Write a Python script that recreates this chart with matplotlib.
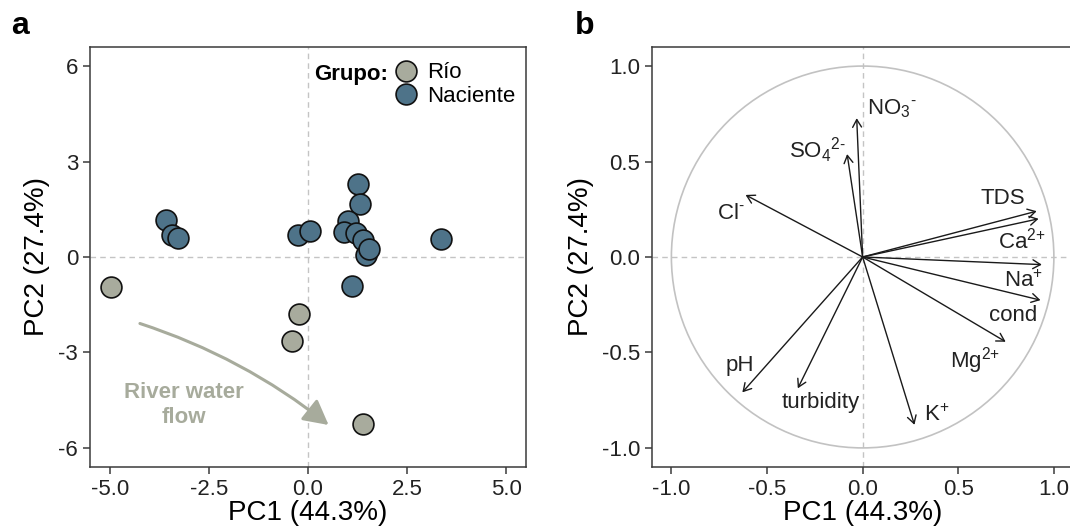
"""
PCA of water chemistry: sample scores (a) and variable loadings (b).
"""

import matplotlib.pyplot as plt
from matplotlib.lines import Line2D
from matplotlib.patches import Circle, FancyArrowPatch

plt.rcParams["font.family"] = ["Liberation Sans", "DejaVu Sans"]
plt.rcParams["mathtext.default"] = "regular"

# Scores (panel a)
rio_pc1 = [-4.96, -0.22, -0.40, 1.40]
rio_pc2 = [-0.94, -1.79, -2.65, -5.26]

naciente_pc1 = [-3.57, -3.43, -3.28, -0.26, 0.05, 1.27, 1.30, 1.01, 0.90,
                1.22, 1.38, 1.46, 1.54, 1.12, 3.36]
naciente_pc2 = [1.15, 0.70, 0.59, 0.68, 0.82, 2.29, 1.65, 1.13, 0.80,
                0.75, 0.52, 0.07, 0.26, -0.91, 0.56]

# Loadings (panel b)
HY = "\u2010"  # short hyphen for ion charges
variables = ["NO$_3$$^{" + HY + "}$", "SO$_4$$^{2" + HY + "}$",
             "Cl$^{" + HY + "}$", "TDS", "Ca$^{2{+}}$", "Na$^{+}$", "cond",
             "Mg$^{2{+}}$", "K$^{+}$", "turbidity", "pH"]
load_pc1 = [-0.031, -0.081, -0.612, 0.910, 0.920, 0.937, 0.930, 0.748,
            0.271, -0.339, -0.629]
load_pc2 = [0.727, 0.539, 0.325, 0.240, 0.200, -0.040, -0.226, -0.444,
            -0.879, -0.688, -0.709]
label_x = [0.023, -0.238, -0.690, 0.732, 0.831, 0.840, 0.788, 0.588,
           0.388, -0.221, -0.642]
label_y = [0.775, 0.560, 0.230, 0.304, 0.087, -0.125, -0.305, -0.540,
           -0.827, -0.762, -0.569]
label_ha = ["left", "center", "center", "center", "center", "center",
            "center", "center", "center", "center", "center"]

RIO_COLOR = "#a8ab9d"
NAC_COLOR = "#4e7389"
SPINE = "#3a3a3a"
GUIDE = "#c4c4c4"
FS = 16


def style_axes(ax):
    for sp in ax.spines.values():
        sp.set_color(SPINE)
        sp.set_linewidth(1.1)
    ax.tick_params(direction="out", length=5, width=1.1, color=SPINE,
                   labelsize=FS, pad=3.5, labelcolor="#222222")
    ax.axhline(0, color=GUIDE, lw=1.0, ls=(0, (4, 3)), zorder=1)
    ax.axvline(0, color=GUIDE, lw=1.0, ls=(0, (4, 3)), zorder=1)


fig = plt.figure(figsize=(10.7, 5.29), dpi=100)

# Panel a
ax1 = fig.add_axes([0.0841, 0.1172, 0.4075, 0.794])
style_axes(ax1)
ax1.scatter(rio_pc1, rio_pc2, s=225, c=RIO_COLOR, edgecolors="#111111",
            linewidths=1.2, zorder=3)
ax1.scatter(naciente_pc1, naciente_pc2, s=225, c=NAC_COLOR,
            edgecolors="#111111", linewidths=1.2, zorder=3)
ax1.set_xlim(-5.5, 5.5)
ax1.set_ylim(-6.6, 6.6)
ax1.set_xticks([-5.0, -2.5, 0.0, 2.5, 5.0])
ax1.set_xticklabels(["-5.0", "-2.5", "0.0", "2.5", "5.0"])
ax1.set_yticks([-6, -3, 0, 3, 6])
ax1.set_yticklabels(["-6", "-3", "0", "3", "6"])
ax1.set_xlabel("PC1 (44.3%)", fontsize=20, labelpad=0)
ax1.set_ylabel("PC2 (27.4%)", fontsize=20, labelpad=6)

flow = FancyArrowPatch((-4.24, -2.09), (0.52, -5.28),
                       connectionstyle="arc3,rad=-0.09",
                       arrowstyle="-|>,head_length=0.75,head_width=0.4",
                       mutation_scale=20, color="#a7ab9c", lw=2.2,
                       shrinkA=0, shrinkB=0, zorder=2)
ax1.add_patch(flow)
ax1.text(-3.13, -4.65, "River water\nflow", color="#a7ab9c",
         fontsize=FS, fontweight="bold", ha="center", va="center",
         linespacing=1.3)

handles = [
    Line2D([], [], ls="none", marker="o", ms=15, mfc=RIO_COLOR,
           mec="#111111", mew=1.2, label="Río"),
    Line2D([], [], ls="none", marker="o", ms=15, mfc=NAC_COLOR,
           mec="#111111", mew=1.2, label="Naciente"),
]
ax1.legend(handles=handles, loc="upper right", frameon=False,
           fontsize=FS, handlelength=1.0, handletextpad=0.45,
           labelspacing=0.1, borderaxespad=0.1,
           bbox_to_anchor=(1.0, 0.99))
ax1.text(0.683, 0.935, "Grupo:", transform=ax1.transAxes, fontsize=FS,
         fontweight="bold", ha="right", va="center")

# Panel b
ax2 = fig.add_axes([0.6096, 0.1172, 0.3932, 0.794])
style_axes(ax2)
ax2.add_patch(Circle((0, 0), 1.0, fill=False, ec="#c2c2c2", lw=1.2,
                     zorder=1))
for x, y in zip(load_pc1, load_pc2):
    ax2.add_patch(FancyArrowPatch((0, 0), (x, y),
                                  arrowstyle="->,head_length=0.55,head_width=0.32",
                                  mutation_scale=10, color="#1a1a1a",
                                  lw=1.0, shrinkA=0, shrinkB=0, zorder=3))
for name, x, y, ha in zip(variables, label_x, label_y, label_ha):
    ax2.text(x, y, name, fontsize=FS, ha=ha, va="center", color="#222222")
ax2.set_xlim(-1.1, 1.1)
ax2.set_ylim(-1.1, 1.1)
ax2.set_xticks([-1.0, -0.5, 0.0, 0.5, 1.0])
ax2.set_xticklabels(["-1.0", "-0.5", "0.0", "0.5", "1.0"])
ax2.set_yticks([-1.0, -0.5, 0.0, 0.5, 1.0])
ax2.set_yticklabels(["-1.0", "-0.5", "0.0", "0.5", "1.0"])
ax2.set_xlabel("PC1 (44.3%)", fontsize=20, labelpad=0)
ax2.set_ylabel("PC2 (27.4%)", fontsize=20, labelpad=6)

fig.text(0.010, 0.936, "a", fontsize=23, fontweight="bold", va="baseline")
fig.text(0.537, 0.936, "b", fontsize=23, fontweight="bold", va="baseline")

fig.savefig("out.png", dpi=100)
